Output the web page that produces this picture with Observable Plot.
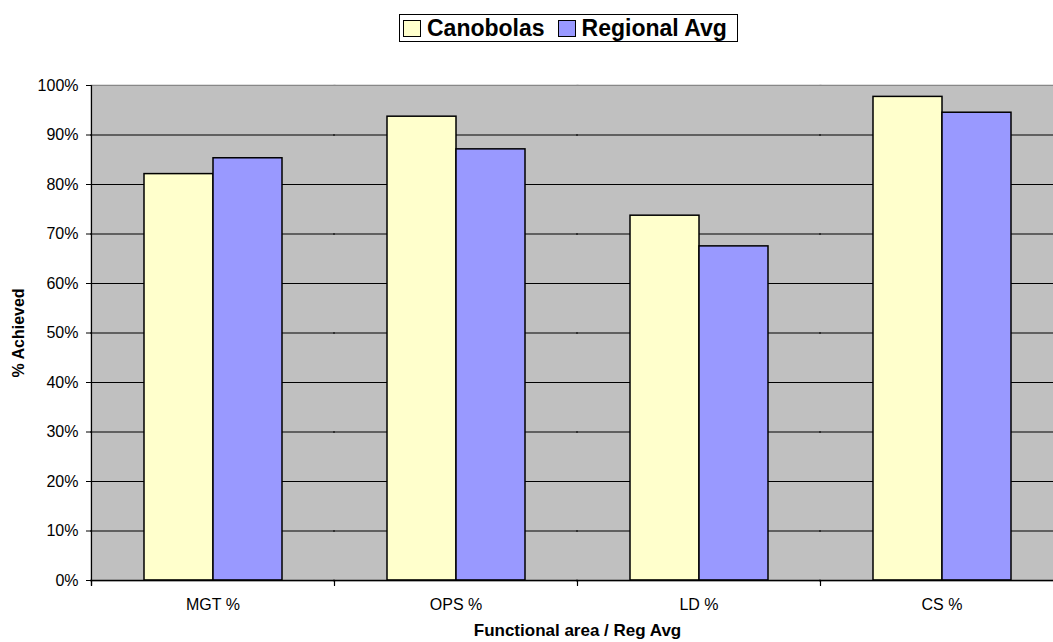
<!DOCTYPE html>
<html><head><meta charset="utf-8">
<script src="https://cdn.jsdelivr.net/npm/d3@7"></script>
<script src="https://cdn.jsdelivr.net/npm/@observablehq/plot@0.6"></script>
<style>
html,body{margin:0;padding:0;background:#fff;overflow:hidden;width:1053px;height:642px}
#wrap{position:relative;width:1053px;height:642px;overflow:hidden}
#chart{position:absolute;left:0;top:0;width:1063px}
#chart svg{max-width:none !important}
#legend{position:absolute;left:399px;top:14px;height:28px;border:1px solid #000;display:flex;align-items:center;padding:0 10px 0 3px;font:bold 23px "Liberation Sans",Arial,sans-serif;background:#fff;box-sizing:border-box;white-space:nowrap}
#legend .sw{display:inline-block;width:18px;height:17px;border:1px solid #000;margin-right:6px;box-sizing:border-box}
#legend .it{display:flex;align-items:center;margin-right:13px}
#legend .it:last-child{margin-right:0}
g[aria-label="fx-axis label"] text, g[aria-label="y-axis label"] text{font-weight:bold}
g[aria-label="fx-axis label"] text{font-size:17px}
</style>
</head><body>
<div id="wrap">
<div id="chart"></div>
<div id="legend"></div>
</div>
<script>
const categories = ["MGT %", "OPS %", "LD %", "CS %"];
const seriesNames = ["Canobolas", "Regional Avg"];
const canobolas = [0.821, 0.937, 0.737, 0.977];
const regional = [0.853, 0.871, 0.675, 0.945];
const yTicks = [0, 0.1, 0.2, 0.3, 0.4, 0.5, 0.6, 0.7, 0.8, 0.9, 1.0];
const gridTicks = [0.1, 0.2, 0.3, 0.4, 0.5, 0.6, 0.7, 0.8, 0.9];
const seriesColors = ["#FFFFCC", "#9999FF"];

const rows = [];
categories.forEach((c, i) => {
  rows.push({category: c, series: seriesNames[0], value: canobolas[i]});
  rows.push({category: c, series: seriesNames[1], value: regional[i]});
});

const tickShape = {draw(context, l) { context.moveTo(0, 0); context.lineTo(0, -l); }};

const chart = Plot.plot({
  width: 1063,
  height: 642,
  marginLeft: 91,
  marginRight: 0,
  marginTop: 85,
  marginBottom: 62,
  style: {fontFamily: "'Liberation Sans', Arial, sans-serif", fontSize: "16px", color: "#000", background: "transparent", overflow: "visible", maxWidth: "none"},
  fx: {domain: categories, padding: 0, label: "Functional area / Reg Avg", labelAnchor: "center", labelOffset: 55, tickSize: 0, tickPadding: 18, axis: "bottom"},
  x: {domain: seriesNames, paddingInner: 0, paddingOuter: 0.748, axis: null},
  y: {domain: [0, 1], axis: null},
  color: {domain: seriesNames, range: seriesColors},
  marks: [
    Plot.frame({fill: "#C0C0C0", stroke: "#C0C0C0", strokeWidth: 2}),
    Plot.ruleY(gridTicks, {stroke: "#000", strokeWidth: 1, insetLeft: -1, insetRight: -1}),
    Plot.ruleY([1], {stroke: "#888", strokeWidth: 1, insetLeft: -1, insetRight: -1}),
    Plot.barY(rows, {fx: "category", x: "series", y: "value", fill: "series", stroke: "#000", strokeWidth: 1.5}),
    Plot.ruleY([0], {stroke: "#000", strokeWidth: 1.5, insetLeft: -1, insetRight: -1}),
    Plot.vector([0], {frameAnchor: "bottom-left", length: 5, rotate: 180, anchor: "start", shape: tickShape, stroke: "#000", strokeWidth: 1.2}),
    Plot.vector([categories[0]], {fx: (d) => d, frameAnchor: "left", y: 0, dy: 5, length: 500, rotate: 0, anchor: "start", shape: tickShape, stroke: "#000", strokeWidth: 1.2}),
    Plot.axisY({ticks: yTicks, tickFormat: d3.format(".0%"), tickSize: 5, tickPadding: 8, label: "% Achieved", labelAnchor: "center", labelOffset: 79, labelArrow: "none"})
  ]
});
document.getElementById("chart").appendChild(chart);

const legend = document.getElementById("legend");
seriesNames.forEach((s, i) => {
  const it = document.createElement("span");
  it.className = "it";
  const sw = document.createElement("span");
  sw.className = "sw";
  sw.style.background = seriesColors[i];
  it.appendChild(sw);
  it.appendChild(document.createTextNode(s));
  legend.appendChild(it);
});
</script>
</body></html>
